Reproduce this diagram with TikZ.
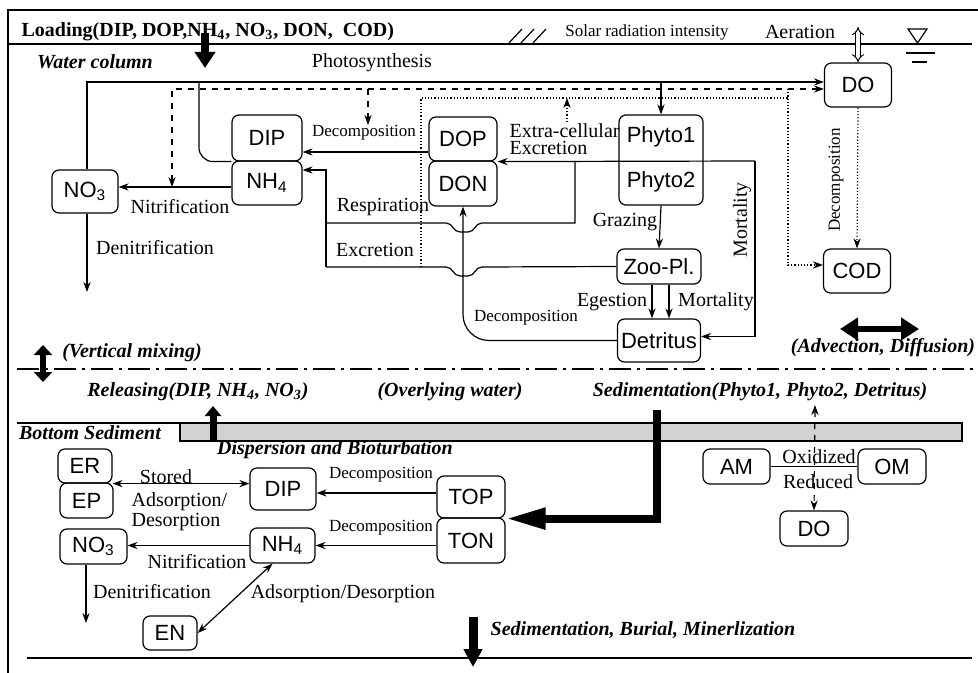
\documentclass[tikz,border=0pt]{standalone}
\usepackage{fontspec}
\setmainfont{Liberation Serif}
\setsansfont{Liberation Sans}
\usetikzlibrary{arrows.meta}

\tikzset{
  cell/.style={draw, rounded corners=3.5pt, inner sep=0pt, font=\sffamily\fontsize{11}{13}\selectfont},
  celltxt/.style={inner sep=0pt, font=\sffamily\fontsize{11}{13}\selectfont},
  txt/.style={inner sep=0pt, font=\fontsize{10}{11}\selectfont},
  stxt/.style={inner sep=0pt, font=\fontsize{8.5}{10}\selectfont},
  bitxt/.style={inner sep=0pt, font=\bfseries\itshape\fontsize{10}{12}\selectfont},
  flow/.style={-{Stealth[length=5pt,width=3.6pt]}},
  twoway/.style={{Stealth[length=5pt,width=3.6pt]}-{Stealth[length=5pt,width=3.6pt]}},
}

\begin{document}
\begin{tikzpicture}[x=0.5pt, y=-0.5pt, line width=0.6pt]
\useasboundingbox (0,0) rectangle (978,673);

% frame, water surface
\draw[line width=1pt] (978,10) -- (8,10) -- (8,673);
\draw[line width=1pt] (8,44) -- (972,44);
\node[anchor=west, inner sep=0pt, font=\bfseries\fontsize{10}{12}\selectfont] (load) at (21,32)
  {Loading(DIP, DOP,NH\textsubscript{4}, NO\textsubscript{3}, DON,\ \ COD)};
\foreach \i in {0,12,24}
  \draw (508+\i,44) -- (522+\i,29);
\node[stxt] (solar) at (647,32) {Solar radiation intensity};
\node[txt] (aer) at (800,32) {Aeration};
\draw (908,29) -- (927,29) -- (917.5,43) -- cycle;
\draw (906,53) -- (935,53);
\draw (912,62) -- (927,62);

% water column
\node[bitxt] (wc) at (95,62) {Water column};
\node[txt] (phot) at (372,63) {Photosynthesis};
\draw[line width=4pt, -{Triangle[length=8pt,width=10pt]}] (205,33) -- (205,68);

\node[cell, minimum width=33.5pt, minimum height=22pt] (DO1) at (858,85) {DO};
\node[cell, minimum width=35pt, minimum height=23pt] (DIPw) at (267,138) {DIP};
\node[cell, minimum width=35pt, minimum height=22pt] (NH4w) at (267,183) {NH\textsubscript{4}};
\node[cell, minimum width=33pt, minimum height=21.5pt] (NO3w) at (85,191.5) {NO\textsubscript{3}};
\node[cell, minimum width=34pt, minimum height=22pt] (DOP) at (463,139) {DOP};
\node[cell, minimum width=34pt, minimum height=22.5pt] (DON) at (463,183.5) {DON};
\node[cell, minimum width=42pt, minimum height=45pt] (phyto) at (661,160) {};
\node[celltxt] (p1) at (661,137) {Phyto1};
\node[celltxt] (p2) at (661,182) {Phyto2};
\node[cell, minimum width=42pt, minimum height=17.5pt] (Zoo) at (659,266.5) {Zoo-Pl.};
\node[cell, minimum width=41.5pt, minimum height=21.5pt] (Det) at (659,340.5) {Detritus};
\node[cell, minimum width=33.5pt, minimum height=22pt] (COD) at (857,271) {COD};

\coordinate (ae) at (858,27);
\coordinate (ps) at (87,82);
\coordinate (pj) at (199,82);
\coordinate (dl) at (172,89);
\coordinate (dd) at (368,125);
\coordinate (dx) at (421,267);
\coordinate (dc) at (788,98);
\coordinate (ex) at (567,122);
\coordinate (mt) at (755,161);
\coordinate (rs) at (575,161);
\coordinate (rv) at (326,267);
\coordinate (dn1) at (87,292);

\draw[double, double distance=1.6pt, line width=0.5pt, {Implies}-{Implies}] (ae) -- (DO1.north);

% photosynthesis uptake
\draw[flow] (NO3w.north -| ps) -- (ps) -- ([yshift=1.5pt]DO1.west);
\draw[flow] (ps -| phyto.north) -- (phyto.north);
\draw[rounded corners=7pt] (DIPw.south west) -| (pj);

% oxygen use (dashed) and COD (dotted)
\draw[dashed, twoway] ([yshift=-2pt]NH4w.west -| dl) -- (dl) -- (dl -| DO1.west);
\draw[dashed, flow] (dl -| dd) -- (dd);
\draw[densely dotted] (dx) |- (dc);
\draw[densely dotted, flow] (dc |- dl) |- ([yshift=3pt]COD.west);
\draw[densely dotted, flow] (ex) -- (ex |- dc);
\draw[densely dotted, flow] (DO1.south) -- (COD.north);
\node[stxt, rotate=90] (dec4) at (836,180) {Decomposition};

% nutrients
\draw[flow] ([yshift=-6.5pt]DOP.west) -- ([yshift=-6.5pt]DOP.west -| DIPw.east);
\node[stxt] (dec1) at (364,133) {Decomposition};
\draw[flow] ([yshift=-2pt]NH4w.west) -- ([yshift=-2pt]NH4w.west -| NO3w.east);
\node[txt] (nit1) at (180,207) {Nitrification};
\draw[flow] (NO3w.south -| dn1) -- (dn1);
\node[txt] (den1) at (155,248) {Denitrification};

% phytoplankton and zooplankton
\draw[flow] (mt) -- (DOP.south east);
\node[txt, anchor=west, align=left, font=\fontsize{10}{8.5}\selectfont] (exc1) at (509,139) {Extra-cellular\\Excretion};
\draw[flow] (mt) |- ([yshift=2pt]Det.east);
\node[txt, rotate=90] (mort1) at (742,220) {Mortality};
\draw (rs) |- (482,223) .. controls (475,223) and (475,232) .. (468,232) -- (460,232)
  .. controls (453,232) and (453,223) .. (446,223) -- (rv |- 446,223);
\node[txt] (resp) at (383,207) {Respiration};
\draw (Zoo.west) -- (482,267) .. controls (475,267) and (475,276) .. (468,276) -- (460,276)
  .. controls (453,276) and (453,267) .. (446,267) -- (rv);
\draw[flow] (rv) |- ([yshift=6.5pt]NH4w.east);
\node[txt] (exc2) at (375,250) {Excretion};
\draw[flow] (phyto.south) -- (Zoo.north);
\node[txt] (graz) at (625,222) {Grazing};
\draw[flow] ([xshift=-3.5pt]Zoo.south) -- ([xshift=-3.5pt]Zoo.south |- Det.north);
\draw[flow] ([xshift=5pt]Zoo.south) -- ([xshift=5pt]Zoo.south |- Det.north);
\node[txt] (eges) at (612,302) {Egestion};
\node[txt] (mort2) at (716,302) {Mortality};
\draw[flow, rounded corners=13pt] (Det.west) -| (DON.south);
\node[stxt] (dec2) at (526,318) {Decomposition};

% transport
\draw[line width=3.2pt, {Triangle[length=9pt,width=11pt]}-{Triangle[length=9pt,width=11pt]}] (840,329) -- (919,329);
\node[bitxt] (adv) at (883,348) {(Advection, Diffusion)};
\draw[line width=3pt, {Triangle[length=5pt,width=9pt]}-{Triangle[length=5pt,width=9pt]}] (43,345) -- (43,382);
\node[bitxt] (vmix) at (132,353) {(Vertical mixing)};
\draw[line width=0.8pt, dash pattern=on 11pt off 3pt on 1.5pt off 3pt] (17,369) -- (975,369);
\node[bitxt] (rel) at (198,392) {Releasing(DIP, NH\textsubscript{4}, NO\textsubscript{3})};
\node[bitxt] (ovw) at (450,392) {(Overlying water)};
\node[bitxt] (sed) at (760,392) {Sedimentation(Phyto1, Phyto2, Detritus)};

% bottom sediment
\draw (17,423) -- (180,423);
\draw[fill=gray!35] (180,423) rectangle (962,441);
\node[bitxt] (bs) at (90,433) {Bottom Sediment};
\draw[line width=3.5pt, -{Triangle[length=5pt,width=8pt]}] (213,441) -- (213,406);
\node[bitxt] (disp) at (335,450) {Dispersion and Bioturbation};

\node[cell, minimum width=27pt, minimum height=17pt] (ER) at (85,466) {ER};
\node[cell, minimum width=26.5pt, minimum height=17.5pt] (EP) at (86.5,500.5) {EP};
\node[cell, minimum width=33pt, minimum height=21pt] (DIPs) at (283,489) {DIP};
\node[cell, minimum width=34pt, minimum height=21pt] (TOP) at (471,497) {TOP};
\node[cell, minimum width=34pt, minimum height=22.5pt] (TON) at (471,540.5) {TON};
\node[cell, minimum width=32.5pt, minimum height=17.5pt] (NH4s) at (282.5,545.5) {NH\textsubscript{4}};
\node[cell, minimum width=33.5pt, minimum height=17.5pt] (NO3s) at (93.5,546.5) {NO\textsubscript{3}};
\node[cell, minimum width=27pt, minimum height=17pt] (EN) at (170,633) {EN};
\node[cell, minimum width=33.5pt, minimum height=17.5pt] (AM) at (736.5,466.5) {AM};
\node[cell, minimum width=34pt, minimum height=17.5pt] (OM) at (892,466.5) {OM};
\node[cell, minimum width=34pt, minimum height=17.5pt] (DOs) at (814,528.5) {DO};

\coordinate (sd) at (657,410);
\coordinate (ox) at (815,405);
\coordinate (dn2) at (86,623);

\draw[line width=4pt, line join=miter, -{Triangle[length=20pt,width=10pt]}] (sd) |- (TOP.south east);
\draw[twoway] (ER.south east) -- (ER.south east -| DIPs.west);
\node[txt] (stor) at (166,477) {Stored};
\node[txt, anchor=west, align=left, font=\fontsize{10}{8.5}\selectfont] (ads1) at (131,511.5) {Adsorption/\\Desorption};
\draw[flow] ([yshift=2pt]TOP.west) -- ([yshift=2pt]TOP.west -| DIPs.east);
\node[stxt] (dec5) at (381,475) {Decomposition};
\draw[flow] (TON.west |- NH4s.east) -- (NH4s.east);
\node[stxt] (dec6) at (381,528) {Decomposition};
\draw[flow] (NH4s.west) -- (NH4s.west -| NO3s.east);
\node[txt] (nit2) at (197,562) {Nitrification};
\draw[flow] (NO3s.south -| dn2) -- (dn2);
\node[txt] (den2) at (152,592) {Denitrification};
\draw[twoway] (EN.east) -- ([xshift=-5pt]NH4s.south);
\node[txt] (ads2) at (343,594) {Adsorption/Desorption};

\draw (AM) -- (OM);
\node[txt] (oxd) at (819,457) {Oxidized};
\node[txt] (red) at (818,482) {Reduced};
\draw[dashed, twoway] (ox) -- (DOs.north);

\draw[line width=4.5pt, -{Triangle[length=9pt,width=9pt]}] (473,617) -- (473,667);
\node[bitxt] (bur) at (643,630) {Sedimentation, Burial, Minerlization};
\draw[line width=1pt] (27,658) -- (972,658);
\end{tikzpicture}
\end{document}
